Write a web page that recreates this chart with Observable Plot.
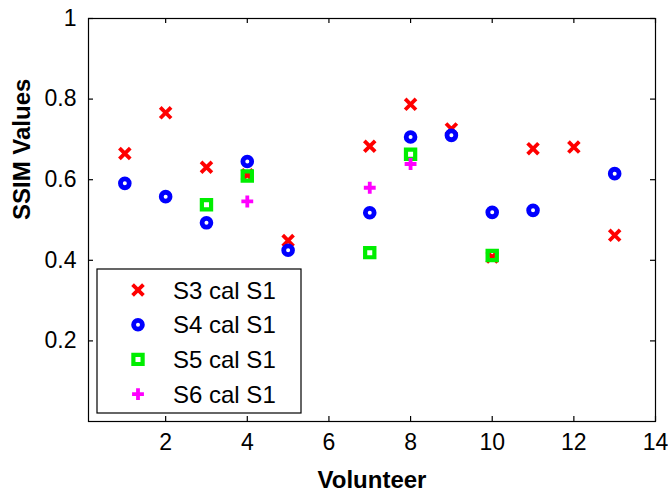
<!DOCTYPE html>
<html>
<head>
<meta charset="utf-8">
<script src="https://cdn.jsdelivr.net/npm/d3@7"></script>
<script src="https://cdn.jsdelivr.net/npm/@observablehq/plot@0.6"></script>
<style>
  html, body { margin: 0; padding: 0; background: #fff; }
  #chart { position: relative; width: 668px; height: 491px; }
  svg { font-family: "Liberation Sans", Arial, Helvetica, sans-serif; }
</style>
</head>
<body>
<div id="chart"></div>
<script>
// ---- data ----
const seriesNames = ["S3 cal S1", "S4 cal S1", "S5 cal S1", "S6 cal S1"];
const s3Volunteers = [1, 2, 3, 4, 5, 7, 8, 9, 10, 11, 12, 13];
const s3Values = [0.665, 0.766, 0.631, 0.612, 0.449, 0.683, 0.787, 0.726, 0.408, 0.677, 0.681, 0.462];
const s4Volunteers = [1, 2, 3, 4, 5, 7, 8, 9, 10, 11, 13];
const s4Values = [0.591, 0.558, 0.493, 0.645, 0.425, 0.518, 0.706, 0.710, 0.519, 0.524, 0.615];
const s5Volunteers = [3, 4, 7, 8, 10];
const s5Values = [0.538, 0.609, 0.419, 0.663, 0.412];
const s6Volunteers = [4, 7, 8];
const s6Values = [0.546, 0.580, 0.639];
const xTicks = [2, 4, 6, 8, 10, 12, 14];
const yTicks = [0.2, 0.4, 0.6, 0.8, 1];

// ---- styles ----
const styles = [
  {symbol: "times",  color: "#ff0000", r: 5.0, sw: 3.8},
  {symbol: "circle", color: "#0000ff", r: 4.4, sw: 4.8},
  {symbol: "square", color: "#00ee00", r: 5.2, sw: 4.2},
  {symbol: "plus",   color: "#ff00ff", r: 3.9, sw: 3.8}
];
const seriesData = [
  s3Volunteers.map((v, i) => ({volunteer: v, value: s3Values[i]})),
  s4Volunteers.map((v, i) => ({volunteer: v, value: s4Values[i]})),
  s5Volunteers.map((v, i) => ({volunteer: v, value: s5Values[i]})),
  s6Volunteers.map((v, i) => ({volunteer: v, value: s6Values[i]}))
];

const W = 668, H = 491;
const mL = 88, mR = 13, mT = 18, mB = 70;
const innerH = H - mT - mB;
const innerW = W - mL - mR;
const tickLen = 5;
const fontSize = 23;

const marks = [];
seriesData.forEach((data, k) => {
  const s = styles[k];
  marks.push(Plot.dot(data, {
    x: "volunteer", y: "value", symbol: () => s.symbol, r: s.r,
    stroke: s.color, strokeWidth: s.sw, fill: "none"
  }));
});

const fig = Plot.plot({
  width: W, height: H,
  marginLeft: mL, marginRight: mR, marginTop: mT, marginBottom: mB,
  style: {fontFamily: '"Liberation Sans", Arial, sans-serif', background: "#fff", overflow: "visible"},
  x: {domain: [0.11, 14]},
  y: {domain: [0, 1]},
  symbol: {type: "identity"},
  marks: [
    ...marks,
    Plot.frame({stroke: "#000", strokeWidth: 1.2}),
    Plot.tickX(xTicks, {x: d => d, insetTop: innerH - tickLen, stroke: "#000", strokeWidth: 1.2}),
    Plot.tickX(xTicks, {x: d => d, insetBottom: innerH - tickLen, stroke: "#000", strokeWidth: 1.2}),
    Plot.tickY(yTicks, {y: d => d, insetRight: innerW - tickLen, stroke: "#000", strokeWidth: 1.2}),
    Plot.tickY(yTicks, {y: d => d, insetLeft: innerW - tickLen, stroke: "#000", strokeWidth: 1.2}),
    Plot.axisX(xTicks, {tickSize: 0, tickPadding: 12, fontSize, label: null, tickFormat: d => String(d), fill: "#000"}),
    Plot.axisY(yTicks, {tickSize: 0, tickPadding: 12, fontSize, label: null, tickFormat: d => String(d), fill: "#000"}),
    Plot.text(["SSIM Values"], {frameAnchor: "left", dx: -66, rotate: -90, lineAnchor: "middle",
      fontSize: 24, fontWeight: "bold", fill: "#000"}),
    Plot.text(["Volunteer"], {frameAnchor: "bottom", dy: 66, lineAnchor: "bottom",
      fontSize: 24, fontWeight: "bold", fill: "#000"})
  ]
});
document.getElementById("chart").appendChild(fig);

// ---- legend (inside plot area, bottom-left) ----
const svg = d3.select(fig);
const lg = svg.append("g").attr("transform", "translate(97,269)");
lg.append("rect").attr("width", 204).attr("height", 144)
  .attr("fill", "#fff").attr("stroke", "#000").attr("stroke-width", 1.2);
const symMap = {times: d3.symbolTimes, circle: d3.symbolCircle, square: d3.symbolSquare, plus: d3.symbolPlus};
seriesNames.forEach((name, k) => {
  const s = styles[k];
  const cy = 21 + k * 34.7;
  lg.append("path")
    .attr("d", d3.symbol(symMap[s.symbol], Math.PI * s.r * s.r)())
    .attr("transform", `translate(41,${cy})`)
    .attr("fill", "none").attr("stroke", s.color).attr("stroke-width", s.sw);
  lg.append("text").attr("x", 76).attr("y", cy + 8.5)
    .attr("text-anchor", "start")
    .attr("font-size", 24).attr("fill", "#000").text(name);
});
</script>
</body>
</html>
